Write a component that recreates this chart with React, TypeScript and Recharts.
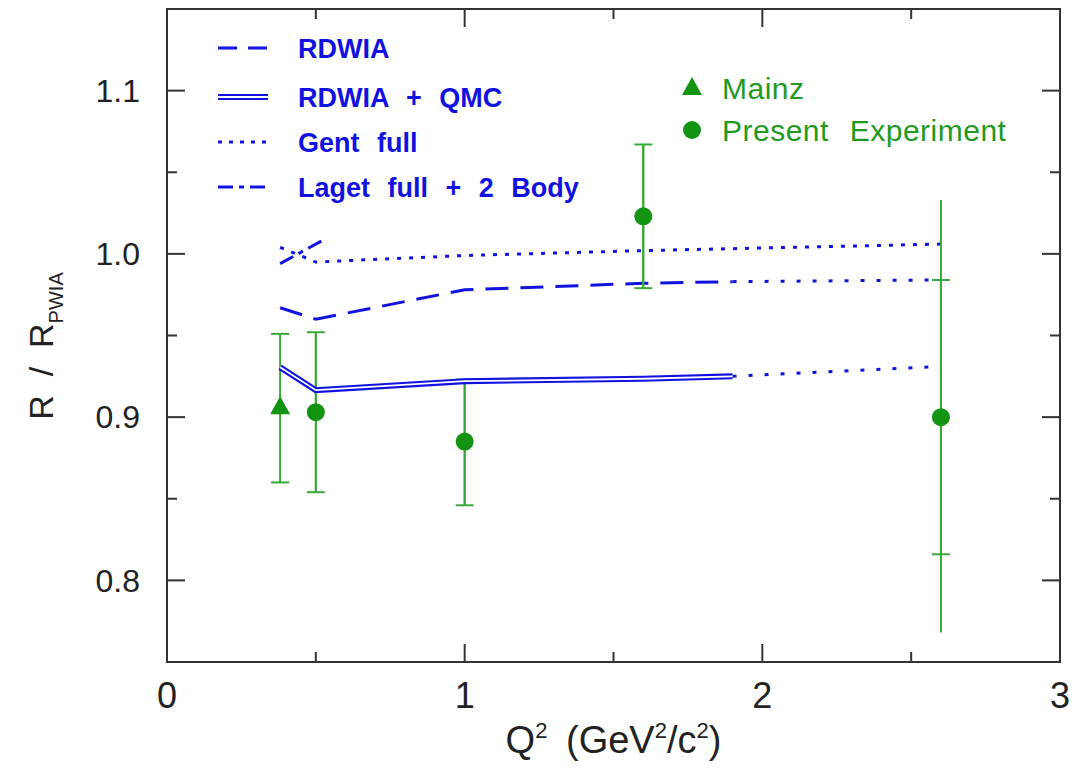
import React from 'react';
import {
  ComposedChart,
  Line,
  Scatter,
  ErrorBar,
  XAxis,
  YAxis,
  ReferenceLine,
  ReferenceArea,
} from 'recharts';

// Q^2 points
const rdwiaX = [0.38, 0.5, 1.0, 1.6, 1.9];
const rdwiaY = [0.967, 0.96, 0.978, 0.982, 0.983];
const rdwiaExtX = [1.9, 2.6];
const rdwiaExtY = [0.983, 0.984];

const qmcX = [0.38, 0.5, 1.0, 1.6, 1.9];
const qmcY = [0.9305, 0.9165, 0.922, 0.9235, 0.925];
const qmcExtX = [1.9, 2.6];
const qmcExtY = [0.925, 0.931];

const gentX = [0.38, 0.5, 1.0, 1.6, 2.6];
const gentY = [1.004, 0.995, 0.999, 1.002, 1.006];

const lagetX = [0.38, 0.52];
const lagetY = [0.994, 1.008];

const mainzX = [0.38];
const mainzY = [0.906];
const mainzLo = [0.86];
const mainzHi = [0.951];

const presentX = [0.5, 1.0, 1.6, 2.6];
const presentY = [0.903, 0.885, 1.023, 0.9];
const statLo = [0.854, 0.846, 0.979, 0.816];
const statHi = [0.952, 0.923, 1.067, 0.984];
const totLo = [0.854, 0.846, 0.979, 0.768];
const totHi = [0.952, 0.923, 1.067, 1.033];

const xLabels = [0, 1, 2, 3];
const yLabels = [0.8, 0.9, 1.0, 1.1];
const xMajor = [1, 2];
const xMinor = [0.5, 1.5, 2.5];
const yMajor = [0.8, 0.9, 1.0, 1.1];
const yMinor = [0.85, 0.95, 1.05];

const X_MIN = 0;
const X_MAX = 3;
const Y_MIN = 0.75;
const Y_MAX = 1.15;

const W = 1069;
const H = 761;
const M = { top: 1, right: 17, bottom: 47, left: 0 };
const Y_AXIS_W = 159;
const X_AXIS_H = 60;
const PLOT_W = W - M.left - M.right - Y_AXIS_W;
const PLOT_H = H - M.top - M.bottom - X_AXIS_H;

const BLUE = '#1212e0';
const GREEN = '#129412';
const TEXT_GREEN = '#1f9a1f';
const BAR_GREEN = '#3aa83a';
const AXIS = '#333';
const FONT = '"Liberation Sans", Arial, sans-serif';

const toXY = (xs: number[], ys: number[]) => xs.map((x, i) => ({ x, y: ys[i] }));

const rdwia = toXY(rdwiaX, rdwiaY);
const rdwiaExt = toXY(rdwiaExtX, rdwiaExtY);
const qmc = toXY(qmcX, qmcY);
const qmcExt = toXY(qmcExtX, qmcExtY);
const gent = toXY(gentX, gentY);
const laget = toXY(lagetX, lagetY);

const mainz = mainzX.map((x, i) => ({
  x,
  y: mainzY[i],
  err: [mainzY[i] - mainzLo[i], mainzHi[i] - mainzY[i]],
}));

const present = presentX.map((x, i) => ({
  x,
  y: presentY[i],
  stat: [presentY[i] - statLo[i], statHi[i] - presentY[i]],
  tot: [presentY[i] - totLo[i], totHi[i] - presentY[i]],
}));

// tick lengths in data units
const dx = (px: number) => (px * (X_MAX - X_MIN)) / PLOT_W;
const dy = (px: number) => (px * (Y_MAX - Y_MIN)) / PLOT_H;

function tickSegments() {
  const out: React.ReactNode[] = [];
  const xs = [
    ...xMajor.map((v) => [v, 18]),
    ...xMinor.map((v) => [v, 10]),
  ];
  const ys = [
    ...yMajor.map((v) => [v, 18]),
    ...yMinor.map((v) => [v, 10]),
  ];
  xs.forEach(([v, len]) => {
    out.push(
      <ReferenceLine key={'xb' + v} ifOverflow="visible" stroke={AXIS} strokeWidth={2}
        segment={[{ x: v, y: Y_MIN }, { x: v, y: Y_MIN + dy(len) }]} />,
      <ReferenceLine key={'xt' + v} ifOverflow="visible" stroke={AXIS} strokeWidth={2}
        segment={[{ x: v, y: Y_MAX }, { x: v, y: Y_MAX - dy(len) }]} />
    );
  });
  ys.forEach(([v, len]) => {
    out.push(
      <ReferenceLine key={'yl' + v} ifOverflow="visible" stroke={AXIS} strokeWidth={2}
        segment={[{ x: X_MIN, y: v }, { x: X_MIN + dx(len), y: v }]} />,
      <ReferenceLine key={'yr' + v} ifOverflow="visible" stroke={AXIS} strokeWidth={2}
        segment={[{ x: X_MAX, y: v }, { x: X_MAX - dx(len), y: v }]} />
    );
  });
  return out;
}

const Circle = (p: any) => <circle cx={p.cx} cy={p.cy} r={9} fill={GREEN} />;
const Triangle = (p: any) => (
  <polygon
    points={`${p.cx},${p.cy - 11} ${p.cx - 10},${p.cy + 7} ${p.cx + 10},${p.cy + 7}`}
    fill={GREEN}
  />
);

const XLabel = () => (
  <text x={M.left + Y_AXIS_W + PLOT_W / 2} y={H - 16} textAnchor="middle"
    fontSize={38} fill="#222" fontFamily={FONT} wordSpacing={8}
    style={{ whiteSpace: 'pre' }}>
    Q<tspan fontSize={22} dy={-15}>2</tspan>
    <tspan dy={15}>{' (GeV'}</tspan>
    <tspan fontSize={22} dy={-15}>2</tspan>
    <tspan dy={15}>/c</tspan>
    <tspan fontSize={22} dy={-15}>2</tspan>
    <tspan dy={15}>)</tspan>
  </text>
);

const YLabel = () => (
  <text transform="translate(45, 338) rotate(-90)" textAnchor="middle"
    fontSize={34} fill="#222" fontFamily={FONT} style={{ whiteSpace: 'pre' }}>
    {'R  /  R'}
    <tspan fontSize={20} dy={10}>PWIA</tspan>
  </text>
);

function LegendOverlay() {
  const rows = [
    { label: 'RDWIA', y: 40, kind: 'dash' },
    { label: 'RDWIA + QMC', y: 89, kind: 'double' },
    { label: 'Gent full', y: 134, kind: 'dot' },
    { label: 'Laget full + 2 Body', y: 179, kind: 'dashdot' },
  ];
  const x1 = 210;
  const x2 = 260;
  return (
    <svg width={W} height={H} style={{ position: 'absolute', left: 0, top: 0, pointerEvents: 'none' }}>
      {rows.map((r) => (
        <g key={r.label}>
          {r.kind === 'double' ? (
            <>
              <line x1={x1} x2={x2} y1={r.y} y2={r.y} stroke={BLUE} strokeWidth={6} />
              <line x1={x1} x2={x2} y1={r.y} y2={r.y} stroke="#fff" strokeWidth={1.8} />
            </>
          ) : (
            <line x1={x1} x2={x2} y1={r.y} y2={r.y} stroke={BLUE} strokeWidth={3}
              strokeDasharray={r.kind === 'dash' ? '19 11' : r.kind === 'dot' ? '4 7' : '15 6 5 6'} />
          )}
          <text x={290} y={r.y + 10} fontSize={27} fontWeight="bold" fill={BLUE} fontFamily={FONT}
            wordSpacing={10}>
            {r.label}
          </text>
        </g>
      ))}
      <polygon points="684,69 674,87 694,87" fill={GREEN} />
      <text x={714} y={91} fontSize={30} fill={TEXT_GREEN} fontFamily={FONT} letterSpacing={0.5}>
        Mainz
      </text>
      <circle cx={684} cy={122} r={9} fill={GREEN} />
      <text x={714} y={133} fontSize={30} fill={TEXT_GREEN} fontFamily={FONT} letterSpacing={0.5}
        wordSpacing={12}>
        Present Experiment
      </text>
    </svg>
  );
}

export default function App() {
  return (
    <div style={{ position: 'relative', width: W, height: H, background: '#fff' }}>
      <ComposedChart width={W} height={H} margin={M} style={{ fontFamily: FONT }}>
        <XAxis type="number" dataKey="x" domain={[X_MIN, X_MAX]} ticks={xLabels}
          allowDataOverflow height={X_AXIS_H} tickSize={0} tickMargin={20}
          axisLine={false} tick={{ fontSize: 36, fill: '#222' }} />
        <YAxis type="number" dataKey="y" domain={[Y_MIN, Y_MAX]} ticks={yLabels}
          allowDataOverflow width={Y_AXIS_W} tickSize={0} tickMargin={27}
          axisLine={false} tick={{ fontSize: 32, fill: '#222' }}
          tickFormatter={(v: number) => v.toFixed(1)} />
        <ReferenceArea x1={X_MIN} x2={X_MAX} y1={Y_MIN} y2={Y_MAX} fill="none"
          stroke={AXIS} strokeWidth={2} ifOverflow="visible" />
        {tickSegments()}

        <Line data={gent} dataKey="y" stroke={BLUE} strokeWidth={3} strokeDasharray="4 8"
          dot={false} isAnimationActive={false} />
        <Line data={laget} dataKey="y" stroke={BLUE} strokeWidth={3} strokeDasharray="15 6 5 6"
          dot={false} isAnimationActive={false} />
        <Line data={rdwia} dataKey="y" stroke={BLUE} strokeWidth={3} strokeDasharray="23 12"
          dot={false} isAnimationActive={false} />
        <Line data={rdwiaExt} dataKey="y" stroke={BLUE} strokeWidth={3} strokeDasharray="4 12"
          dot={false} isAnimationActive={false} />
        <Line data={qmcExt} dataKey="y" stroke={BLUE} strokeWidth={3} strokeDasharray="4 12"
          dot={false} isAnimationActive={false} />

        <Scatter data={mainz} dataKey="y" shape={Triangle} isAnimationActive={false}>
          <ErrorBar dataKey="err" direction="y" width={9} stroke={BAR_GREEN} strokeWidth={2}
            isAnimationActive={false} />
        </Scatter>
        <Scatter data={present} dataKey="y" shape={Circle} isAnimationActive={false}>
          <ErrorBar dataKey="tot" direction="y" width={0} stroke={BAR_GREEN} strokeWidth={2}
            isAnimationActive={false} />
          <ErrorBar dataKey="stat" direction="y" width={9} stroke={BAR_GREEN} strokeWidth={2}
            isAnimationActive={false} />
        </Scatter>

        <Line data={qmc} dataKey="y" stroke={BLUE} strokeWidth={6}
          dot={false} isAnimationActive={false} />
        <Line data={qmc} dataKey="y" stroke="#fff" strokeWidth={1.8}
          dot={false} isAnimationActive={false} />

        <XLabel />
        <YLabel />
      </ComposedChart>
      <LegendOverlay />
    </div>
  );
}
